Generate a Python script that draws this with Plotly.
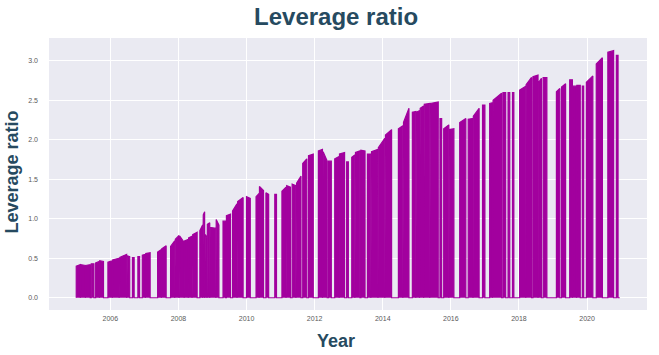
import plotly.graph_objects as go

# Observation periods (decimal years) and leverage ratio at start/end of each period
block_start = [2005.00, 2005.13, 2005.28, 2005.44, 2005.57, 2005.69, 2005.93, 2006.07, 2006.28, 2006.50,
               2006.65, 2006.81, 2006.94, 2007.04, 2007.39, 2007.51, 2007.77, 2007.91, 2008.04, 2008.18,
               2008.30, 2008.42, 2008.63, 2008.73, 2008.79, 2008.85, 2008.93, 2009.11, 2009.31, 2009.41,
               2009.59, 2009.74, 2010.00, 2010.28, 2010.38, 2010.57, 2010.83, 2011.04, 2011.18, 2011.34,
               2011.47, 2011.65, 2011.82, 2012.11, 2012.25, 2012.41, 2012.59, 2012.73, 2012.94, 2013.09,
               2013.20, 2013.36, 2013.55, 2013.67, 2013.87, 2014.08, 2014.46, 2014.61, 2014.87, 2014.99,
               2015.10, 2015.22, 2015.40, 2015.68, 2015.79, 2015.96, 2016.26, 2016.51, 2016.66, 2016.93,
               2017.14, 2017.24, 2017.53, 2017.68, 2017.81, 2018.02, 2018.21, 2018.41, 2018.57, 2018.71,
               2019.10, 2019.25, 2019.49, 2019.58, 2019.70, 2019.86, 2019.98, 2020.27, 2020.61, 2020.86]
block_end = [2005.12, 2005.27, 2005.41, 2005.52, 2005.68, 2005.80, 2006.06, 2006.26, 2006.48, 2006.57,
             2006.70, 2006.86, 2007.03, 2007.17, 2007.50, 2007.64, 2007.89, 2008.02, 2008.17, 2008.29,
             2008.40, 2008.55, 2008.71, 2008.77, 2008.84, 2008.92, 2009.10, 2009.19, 2009.38, 2009.53,
             2009.72, 2009.90, 2010.11, 2010.37, 2010.50, 2010.65, 2010.88, 2011.16, 2011.29, 2011.45,
             2011.60, 2011.77, 2011.96, 2012.23, 2012.37, 2012.49, 2012.72, 2012.88, 2012.99, 2013.18,
             2013.33, 2013.48, 2013.65, 2013.86, 2014.06, 2014.26, 2014.59, 2014.77, 2014.97, 2015.08,
             2015.20, 2015.38, 2015.63, 2015.73, 2015.94, 2016.09, 2016.44, 2016.65, 2016.83, 2017.00,
             2017.22, 2017.49, 2017.61, 2017.73, 2017.85, 2018.20, 2018.37, 2018.56, 2018.66, 2018.82,
             2019.20, 2019.37, 2019.57, 2019.69, 2019.80, 2019.90, 2020.17, 2020.45, 2020.78, 2020.91]
value_start = [0.40, 0.42, 0.41, 0.43, 0.44, 0.47, 0.45, 0.48, 0.51, 0.53,
               0.51, 0.52, 0.54, 0.56, 0.58, 0.62, 0.65, 0.74, 0.78, 0.72,
               0.76, 0.80, 0.85, 1.05, 0.80, 0.93, 0.89, 0.99, 0.97, 1.04,
               1.10, 1.22, 1.28, 1.28, 1.41, 1.33, 1.31, 1.35, 1.42, 1.44,
               1.45, 1.70, 1.80, 1.86, 1.85, 1.73, 1.76, 1.82, 1.72, 1.78,
               1.84, 1.87, 1.82, 1.85, 1.90, 2.06, 2.14, 2.22, 2.35, 2.35,
               2.40, 2.45, 2.46, 2.27, 2.14, 2.13, 2.22, 2.26, 2.30, 2.44,
               2.46, 2.50, 2.60, 2.60, 2.60, 2.63, 2.70, 2.80, 2.72, 2.79,
               2.61, 2.67, 2.76, 2.68, 2.69, 2.68, 2.73, 2.96, 3.11, 3.07]
value_end = [0.42, 0.41, 0.42, 0.43, 0.46, 0.46, 0.47, 0.50, 0.55, 0.52,
             0.51, 0.52, 0.55, 0.57, 0.61, 0.66, 0.72, 0.79, 0.70, 0.74,
             0.78, 0.83, 0.92, 1.09, 0.76, 0.95, 0.88, 0.92, 0.97, 1.06,
             1.19, 1.27, 1.26, 1.32, 1.36, 1.31, 1.31, 1.40, 1.40, 1.42,
             1.54, 1.76, 1.82, 1.88, 1.73, 1.73, 1.79, 1.84, 1.72, 1.81,
             1.86, 1.86, 1.82, 1.88, 2.02, 2.13, 2.18, 2.40, 2.36, 2.37,
             2.43, 2.46, 2.48, 2.27, 2.19, 2.14, 2.27, 2.27, 2.40, 2.44,
             2.47, 2.59, 2.60, 2.60, 2.60, 2.68, 2.79, 2.82, 2.78, 2.79,
             2.65, 2.71, 2.76, 2.68, 2.69, 2.68, 2.81, 3.04, 3.13, 3.07]
series_end = 2020.96

tick_years = [2006, 2008, 2010, 2012, 2014, 2016, 2018, 2020]
tick_labels = ["2006", "2008", "2010", "2012", "2014", "2016", "2018", "2020"]
y_ticks = [0.0, 0.5, 1.0, 1.5, 2.0, 2.5, 3.0]

# Build the line path: value drops back to zero between observation periods
xs, ys = [], []
for s, e, v0, v1 in zip(block_start, block_end, value_start, value_end):
    xs += [s, s, e, e]
    ys += [0, v0, v1, 0]
xs.append(series_end)
ys.append(0)

color = "#a2009e"
fig = go.Figure()
fig.add_trace(go.Scatter(
    x=xs, y=ys, mode="lines",
    line=dict(color=color, width=1.2),
    fill="tozeroy", fillcolor=color,
    hoverinfo="skip", showlegend=False,
))

title_color = "#264a60"
tick_font = dict(family="Liberation Sans, Arial, sans-serif", size=7, color="#5a5a5a")

fig.update_layout(
    width=659, height=355,
    margin=dict(l=49, r=12, t=38, b=45),
    paper_bgcolor="white",
    plot_bgcolor="#eaeaf2",
    title=dict(text="<b>Leverage ratio</b>", x=0.51, xref="container", xanchor="center",
               y=0.952, yref="container", yanchor="middle",
               font=dict(family="Liberation Sans, Arial, sans-serif", size=24, color=title_color)),
    xaxis=dict(range=[2004.2, 2021.76], tickvals=tick_years, ticktext=tick_labels,
               showgrid=True, gridcolor="white", gridwidth=1, zeroline=False,
               showline=False, ticks="", tickfont=tick_font, ticklabelstandoff=3),
    yaxis=dict(range=[-0.155, 3.29], tickvals=y_ticks, tickformat=".1f",
               showgrid=True, gridcolor="white", gridwidth=1, zeroline=False,
               showline=False, ticks="", tickfont=tick_font, ticklabelstandoff=10),
    annotations=[
        dict(text="<b>Year</b>", xref="paper", yref="paper", x=0.48, y=-0.114,
             xanchor="center", yanchor="middle", showarrow=False,
             font=dict(family="Liberation Sans, Arial, sans-serif", size=18, color=title_color)),
        dict(text="<b>Leverage ratio</b>", xref="paper", yref="paper", x=-0.061, y=0.507,
             xanchor="center", yanchor="middle", textangle=-90, showarrow=False,
             font=dict(family="Liberation Sans, Arial, sans-serif", size=18, color=title_color)),
    ],
)

fig.write_html("out.html",
               config={"displayModeBar": False},
               post_script="document.body.style.margin='0';document.body.style.padding='0';")
